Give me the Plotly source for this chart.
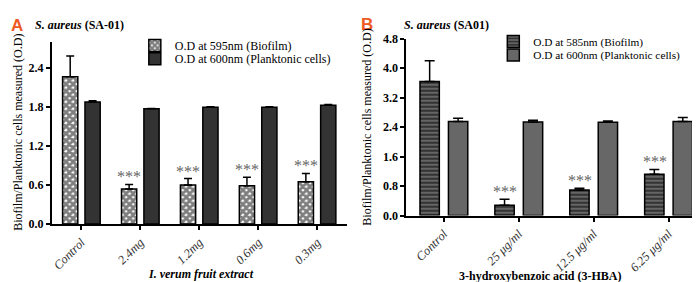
import plotly.graph_objects as go

# ---- data ----
cats_a = ["Control", "2.4mg", "1.2mg", "0.6mg", "0.3mg"]
biofilm_a = [2.27, 0.54, 0.60, 0.59, 0.65]
biofilm_a_err = [0.32, 0.07, 0.10, 0.13, 0.13]
plank_a = [1.88, 1.775, 1.80, 1.80, 1.83]
plank_a_err = [0.02, 0.005, 0.005, 0.008, 0.01]
sig_a = ["", "***", "***", "***", "***"]

cats_b = ["Control", "25 μg/ml", "12.5 μg/ml", "6.25 μg/ml"]
biofilm_b = [3.64, 0.28, 0.69, 1.12]
biofilm_b_err = [0.56, 0.16, 0.05, 0.13]
plank_b = [2.55, 2.54, 2.53, 2.55]
plank_b_err = [0.09, 0.05, 0.04, 0.11]
sig_b = ["", "***", "***", "***"]

yticks_a = [0.0, 0.6, 1.2, 1.8, 2.4]
yticks_b = [0.0, 0.8, 1.6, 2.4, 3.2, 4.0, 4.8]

SERIF = "Liberation Serif"
SANS = "Liberation Sans"
W, H = 700, 282

fig = go.Figure()

def err(vals, w=4):
    return dict(type="data", symmetric=False, array=vals, arrayminus=[0] * len(vals),
                color="black", thickness=1.5, width=w)

fig.add_trace(go.Bar(
    x=cats_a, y=biofilm_a, name="O.D at 595nm (Biofilm)", xaxis="x", yaxis="y",
    marker=dict(color="white", line=dict(color="black", width=1.5),
                pattern=dict(shape="x", fgcolor="black", bgcolor="white", size=5, solidity=0.8)),
    error_y=err(biofilm_a_err), legend="legend"))
fig.add_trace(go.Bar(
    x=cats_a, y=plank_a, name="O.D at 600nm (Planktonic cells)", xaxis="x", yaxis="y",
    marker=dict(color="#333333", line=dict(color="black", width=1.5)),
    error_y=err(plank_a_err), legend="legend2"))

fig.add_trace(go.Bar(
    x=cats_b, y=biofilm_b, name="O.D at 585nm (Biofilm)", xaxis="x2", yaxis="y2",
    marker=dict(color="#333333", line=dict(color="black", width=1.5),
                pattern=dict(shape="-", fgcolor="#d8d8d8", bgcolor="#333333", size=4, solidity=0.3)),
    error_y=err(biofilm_b_err, 5), legend="legend3"))
fig.add_trace(go.Bar(
    x=cats_b, y=plank_b, name="O.D at 600nm (Planktonic cells)", xaxis="x2", yaxis="y2",
    marker=dict(color="#676767", line=dict(color="black", width=1.5)),
    error_y=err(plank_b_err, 5), legend="legend4"))

ann = []
# significance stars
for c, v, e, s in zip(cats_a, biofilm_a, biofilm_a_err, sig_a):
    if s:
        ann.append(dict(x=c, y=v + e, xref="x", yref="y", text=s, showarrow=False,
                        xshift=-11, yanchor="bottom", yshift=-3,
                        font=dict(family=SERIF, size=16, color="#666666")))
for c, v, e, s in zip(cats_b, biofilm_b, biofilm_b_err, sig_b):
    if s:
        ann.append(dict(x=c, y=v + e, xref="x2", yref="y2", text=s, showarrow=False,
                        xshift=-14, yanchor="bottom", yshift=-3,
                        font=dict(family=SERIF, size=16, color="#666666")))

def px(x):
    return x / W

def py(y):
    return 1 - y / H

# panel letters & titles
ann += [
    dict(x=px(0), y=py(11), xref="paper", yref="paper", text="<b>A</b>", showarrow=False,
         xanchor="left", yanchor="middle", font=dict(family=SANS, size=17, color="#EE5A24")),
    dict(x=px(24), y=py(11), xref="paper", yref="paper", text="<b><i>S. aureus</i> (SA-01)</b>",
         showarrow=False, xanchor="left", yanchor="middle", font=dict(family=SERIF, size=12, color="black")),
    dict(x=px(351), y=py(10), xref="paper", yref="paper", text="<b>B</b>", showarrow=False,
         xanchor="left", yanchor="middle", font=dict(family=SANS, size=17, color="#EE5A24")),
    dict(x=px(394), y=py(10), xref="paper", yref="paper", text="<b><i>S. aureus</i> (SA01)</b>",
         showarrow=False, xanchor="left", yanchor="middle", font=dict(family=SERIF, size=12, color="black")),
    # axis titles
    dict(x=px(0), y=py(124), xref="paper", yref="paper", text="Biofilm/Planktonic cells measured (O.D)",
         showarrow=False, textangle=-90, xanchor="left", yanchor="middle",
         font=dict(family=SERIF, size=12, color="black")),
    dict(x=px(359), y=py(118), xref="paper", yref="paper", text="Biofilm/Planktonic cells measured (O.D)",
         showarrow=False, textangle=-90, xanchor="center", yanchor="middle",
         font=dict(family=SERIF, size=12, color="black")),
    dict(x=px(192), y=py(273), xref="paper", yref="paper", text="<b><i>I. verum fruit extract</i></b>",
         showarrow=False, xanchor="center", yanchor="middle", font=dict(family=SERIF, size=12, color="black")),
    dict(x=px(532), y=py(275), xref="paper", yref="paper", text="<b>3-hydroxybenzoic acid (3-HBA)</b>",
         showarrow=False, xanchor="center", yanchor="middle", font=dict(family=SERIF, size=12, color="black")),
]

def legend_at(x, y, size):
    return dict(x=px(x), y=py(y), xanchor="left", yanchor="middle", bgcolor="rgba(0,0,0,0)",
                font=dict(family=SERIF, size=size, color="black"), itemwidth=30,
                tracegroupgap=0)

xcommon = dict(showline=True, linecolor="black", linewidth=2, ticks="outside", ticklen=4,
               tickwidth=1.5, tickcolor="black", tickangle=-45, showgrid=False, zeroline=False,
               tickfont=dict(family=SERIF, size=12.5, color="#333333", style="italic"))
ycommon = dict(showline=True, linecolor="black", linewidth=2, ticks="outside", ticklen=4,
               tickwidth=1.5, tickcolor="black", showgrid=False, zeroline=False, tickformat=".1f",
               tickfont=dict(family=SERIF, size=12, color="black", weight="bold"))

fig.update_layout(
    width=W, height=H, margin=dict(l=0, r=0, t=0, b=0),
    plot_bgcolor="white", paper_bgcolor="white",
    font=dict(family=SERIF, color="black"),
    barmode="group", bargap=0.24, bargroupgap=0.32,
    xaxis=dict(domain=[px(43), px(338)], anchor="y", **xcommon),
    yaxis=dict(domain=[py(220), py(28)], anchor="x", range=[0, 2.81], tickvals=yticks_a, **ycommon),
    xaxis2=dict(domain=[px(398), px(698)], anchor="y2", **xcommon),
    yaxis2=dict(domain=[py(211), py(25)], anchor="x2", range=[0, 4.8], tickvals=yticks_b, **ycommon),
    legend=legend_at(126, 32, 12),
    legend2=legend_at(126, 46, 12),
    legend3=legend_at(485, 28, 11.3),
    legend4=legend_at(485, 42, 11.3),
    annotations=ann,
    showlegend=True,
)

fig.write_html("out.html")
